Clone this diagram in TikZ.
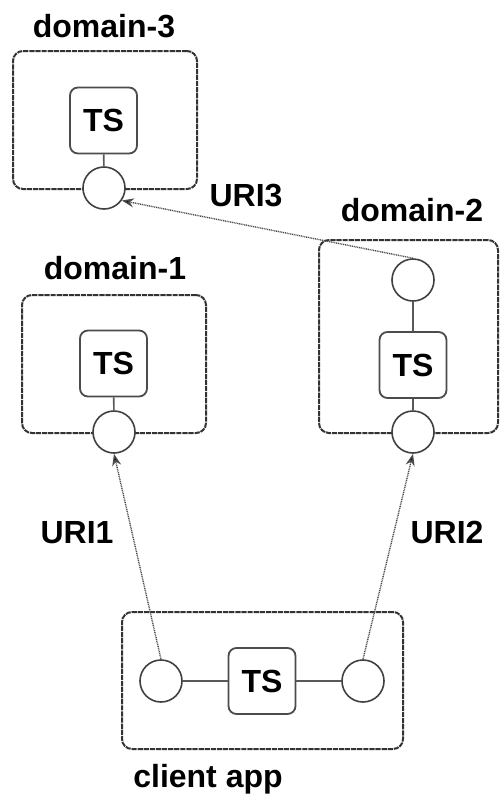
\documentclass[tikz,border=0pt]{standalone}
\usepackage{fontspec}
\setmainfont{Liberation Sans}
\usetikzlibrary{arrows.meta}
\begin{document}
\begin{tikzpicture}[x=0.5pt,y=-0.5pt,
  outerbox/.style={draw=black!80, line width=1pt, dash pattern=on 2.6pt off 0.45pt, rounded corners=5pt, inner sep=0pt},
  tsbox/.style={draw=black!70, line width=0.9pt, fill=white, rounded corners=4pt, minimum width=33.5pt, minimum height=33pt, inner sep=0pt, font=\bfseries\fontsize{16}{18}\selectfont},
  port/.style={draw=black!75, line width=0.8pt, fill=white, circle, minimum size=21pt, inner sep=0pt},
  lbl/.style={font=\bfseries\fontsize{16}{18}\selectfont, anchor=base, inner sep=0pt},
  link/.style={draw=black!65, line width=0.8pt},
  uri/.style={draw=black!70, line width=0.7pt, dash pattern=on 0.5pt off 0.4pt, -{Stealth[length=6pt,width=4.5pt,fill=black]}}
]
\useasboundingbox (0,0) rectangle (499,794);

% outer dashed boxes
\node[outerbox, minimum width=92pt, minimum height=69pt] (d3box) at (105,120) {};
\node[outerbox, minimum width=92pt, minimum height=69pt] (d1box) at (114,364) {};
\node[outerbox, minimum width=89.5pt, minimum height=96.5pt] (d2box) at (408.5,336.5) {};
\node[outerbox, minimum width=140.5pt, minimum height=68.5pt] (clbox) at (262.5,680.5) {};

% labels
\node[lbl] (l3) at (104,37) {domain-3};
\node[lbl] (l1) at (115,279) {domain-1};
\node[lbl] (l2) at (412,221) {domain-2};
\node[lbl] (lc) at (208,787) {client app};
\node[lbl] (u3) at (246,206) {URI3};
\node[lbl] (u1) at (77,543) {URI1};
\node[lbl] (u2) at (447,543) {URI2};

% inner elements
\node[tsbox] (d3ts) at (103.5,120.5) {TS};
\node[port] (d3c) at (104,188) {};
\node[tsbox] (d1ts) at (113.5,363.5) {TS};
\node[port] (d1c) at (114,432) {};
\node[port] (d2t) at (413,280) {};
\node[tsbox] (d2ts) at (413,365) {TS};
\node[port] (d2b) at (413,432) {};
\node[port] (cl) at (161,681) {};
\node[tsbox] (clts) at (262,681) {TS};
\node[port] (cr) at (363,681) {};

% links
\draw[link] (d3ts) -- (d3c);
\draw[link] (d1ts) -- (d1c);
\draw[link] (d2t) -- (d2ts);
\draw[link] (d2ts) -- (d2b);
\draw[link] (cl) -- (clts);
\draw[link] (clts) -- (cr);

% uri arrows
\draw[uri] (cl.north) -- (d1c.south);
\draw[uri] (cr.north) -- (d2b.south);
\draw[uri] (d2t.north) -- (d3c.-35);
\end{tikzpicture}
\end{document}
